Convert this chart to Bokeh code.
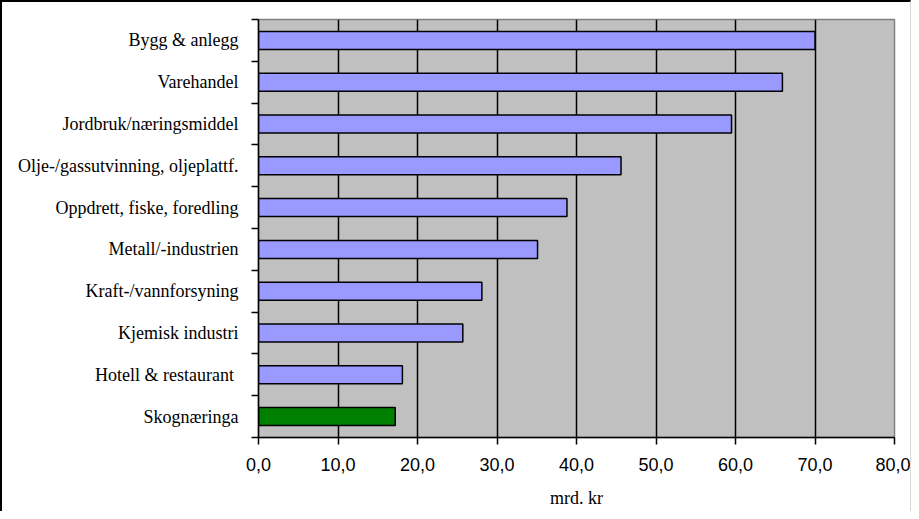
from bokeh.plotting import figure
from bokeh.models import ColumnDataSource, Range1d, FixedTicker
from bokeh.embed import file_html
from bokeh.resources import INLINE

categories = ["Bygg & anlegg", "Varehandel", "Jordbruk/næringsmiddel",
              "Olje-/gassutvinning, oljeplattf.", "Oppdrett, fiske, foredling",
              "Metall/-industrien", "Kraft-/vannforsyning", "Kjemisk industri",
              "Hotell  & restaurant", "Skognæringa"]
values = [70.0, 65.9, 59.5, 45.6, 38.8, 35.1, 28.1, 25.7, 18.1, 17.2]
colors = ["#9999FF"] * 9 + ["#008000"]
x_ticks = [0, 10, 20, 30, 40, 50, 60, 70, 80]
x_tick_labels = ["0,0", "10,0", "20,0", "30,0", "40,0", "50,0", "60,0", "70,0", "80,0"]
x_axis_label = "mrd. kr"

n = len(categories)
ypos = [n - 1 - i for i in range(n)]
source = ColumnDataSource(dict(y=ypos, value=values, color=colors, name=categories))

p = figure(width=911, height=511, output_backend="svg", toolbar_location=None,
           x_range=Range1d(0, 80), y_range=Range1d(-0.5, n - 0.5),
           min_border_left=256, min_border_right=19, min_border_top=17, min_border_bottom=76)
p.background_fill_color = "#C0C0C0"
p.border_fill_color = "white"
p.outline_line_color = "#808080"
p.outline_line_width = 1.5
p.styles = {"border-top": "2px solid black", "border-left": "2px solid black",
            "border-right": "1px solid #d8d8d8"}

p.hbar(y="y", right="value", left=0, height=0.43, source=source,
       fill_color="color", line_color="black", line_width=1.5)

# x axis
p.xaxis.ticker = FixedTicker(ticks=x_ticks, minor_ticks=[])
p.xaxis.major_label_overrides = {t: l for t, l in zip(x_ticks, x_tick_labels)}
p.xaxis.major_label_text_font = "Liberation Sans"
p.xaxis.major_label_text_font_size = "18px"
p.xaxis.major_label_text_color = "black"
p.xaxis.major_tick_out = 7
p.xaxis.major_tick_in = 0
p.xaxis.major_tick_line_color = "black"
p.xaxis.major_tick_line_width = 1.5
p.xaxis.minor_tick_line_color = None
p.xaxis.axis_line_color = "black"
p.xaxis.axis_line_width = 1.5
p.xaxis.major_label_standoff = 13
p.xaxis.axis_label = x_axis_label
p.xaxis.axis_label_text_font = "Liberation Serif"
p.xaxis.axis_label_text_font_size = "18px"
p.xaxis.axis_label_text_font_style = "normal"
p.xaxis.axis_label_text_color = "black"
p.xaxis.axis_label_standoff = 14

# y axis
p.yaxis.ticker = FixedTicker(ticks=ypos, minor_ticks=[k - 0.5 for k in range(n + 1)])
p.yaxis.major_label_overrides = {y: c for y, c in zip(ypos, categories)}
p.yaxis.major_label_text_font = "Liberation Serif"
p.yaxis.major_label_text_font_size = "18px"
p.yaxis.major_label_text_color = "black"
p.yaxis.major_tick_line_color = None
p.yaxis.major_tick_out = 0
p.yaxis.major_tick_in = 0
p.yaxis.minor_tick_out = 7
p.yaxis.minor_tick_in = 0
p.yaxis.minor_tick_line_color = "black"
p.yaxis.minor_tick_line_width = 1.5
p.yaxis.axis_line_color = "black"
p.yaxis.axis_line_width = 1.5
p.yaxis.major_label_standoff = 13

p.xgrid.ticker = FixedTicker(ticks=x_ticks[1:-1], minor_ticks=[])
p.xgrid.grid_line_color = "black"
p.xgrid.grid_line_width = 1.5
p.ygrid.grid_line_color = None

open("out.html", "w").write(file_html(p, INLINE))
